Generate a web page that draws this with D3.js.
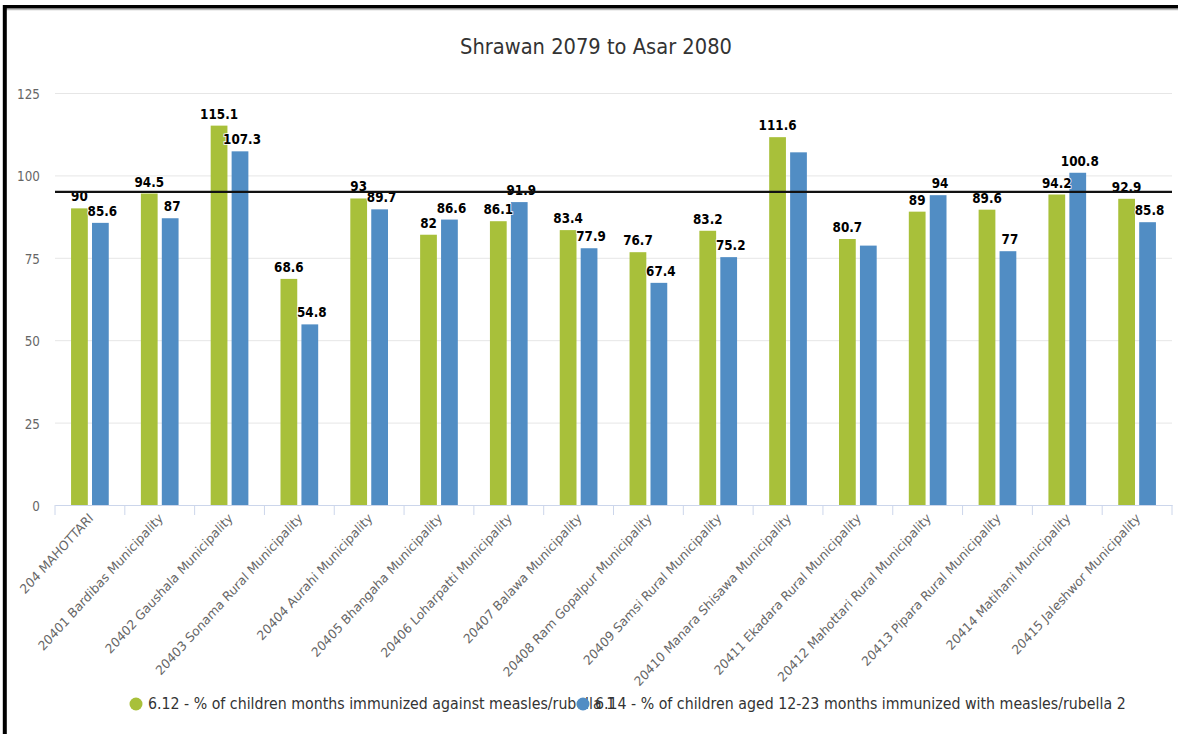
<!DOCTYPE html>
<html>
<head>
<meta charset="utf-8">
<script src="https://cdn.jsdelivr.net/npm/d3@7/dist/d3.min.js"></script>
<style>
    body { margin: 0; background: #fff; }
    text { font-family: "DejaVu Sans", sans-serif; }
</style>
</head>
<body>
<div id="chart"></div>
<script>
var categories = [
    "204 MAHOTTARI",
    "20401 Bardibas Municipality",
    "20402 Gaushala Municipality",
    "20403 Sonama Rural Municipality",
    "20404 Aurahi Municipality",
    "20405 Bhangaha Municipality",
    "20406 Loharpatti Municipality",
    "20407 Balawa Municipality",
    "20408 Ram Gopalpur Municipality",
    "20409 Samsi Rural Municipality",
    "20410 Manara Shisawa Municipality",
    "20411 Ekadara Rural Municipality",
    "20412 Mahottari Rural Municipality",
    "20413 Pipara Rural Municipality",
    "20414 Matihani Municipality",
    "20415 Jaleshwor Municipality"
];
var measles1 = [90, 94.5, 115.1, 68.6, 93, 82, 86.1, 83.4, 76.7, 83.2, 111.6, 80.7, 89, 89.6, 94.2, 92.9];
var measles2 = [85.6, 87, 107.3, 54.8, 89.7, 86.6, 91.9, 77.9, 67.4, 75.2, 107, 78.7, 94, 77, 100.8, 85.8];
// labels the original chart dropped because they collided
var hiddenLabels2 = ["20410 Manara Shisawa Municipality", "20411 Ekadara Rural Municipality"];
var seriesNames = [
    "6.12 - % of children months immunized against measles/rubella 1",
    "6.14 - % of children aged 12-23 months immunized with measles/rubella 2"
];
var seriesColors = ["#a8c03a", "#518dc4"];
var yTicks = [0, 25, 50, 75, 100, 125];
var target = 95;
var title = "Shrawan 2079 to Asar 2080";

var W = 1178,
    H = 734,
    plot = { left: 55, right: 1172, top: 93, bottom: 505 },
    stretch = 1.1; // the screenshot is a little taller than wide

var svg = d3.select("#chart").append("svg")
    .attr("width", W)
    .attr("height", H);

svg.append("rect")
    .attr("width", W)
    .attr("height", H)
    .attr("fill", "#fff");

// frame of the screenshot
svg.append("line")
    .attr("x1", 3).attr("x2", W)
    .attr("y1", 9.6).attr("y2", 9.6)
    .style("stroke", "#bbb")
    .style("stroke-width", 1.2);
svg.append("line")
    .attr("x1", 3).attr("x2", W)
    .attr("y1", 6.8).attr("y2", 6.8)
    .style("stroke", "#000")
    .style("stroke-width", 3.6);
svg.append("line")
    .attr("x1", 4.8).attr("x2", 4.8)
    .attr("y1", 5).attr("y2", H)
    .style("stroke", "#000")
    .style("stroke-width", 4);

var data = categories.map(function(c, i) {
    return { cat: c, values: [measles1[i], measles2[i]] };
});

var x0 = d3.scaleBand()
    .domain(categories)
    .range([plot.left, plot.right]);
var x1 = d3.scaleBand()
    .domain([0, 1])
    .range([x0.bandwidth() * 0.23, x0.bandwidth() * 0.77])
    .paddingInner(0.2);
var y = d3.scaleLinear()
    .domain([0, 125])
    .range([plot.bottom, plot.top]);

svg.append("text")
    .attr("transform", "translate(596,54) scale(1," + stretch + ")")
    .attr("text-anchor", "middle")
    .attr("font-size", 19.5)
    .style("fill", "#333")
    .text(title);

// grid + y labels
var yAxis = d3.axisLeft(y)
    .tickValues(yTicks)
    .tickSize(-(plot.right - plot.left))
    .tickPadding(15);
var gy = svg.append("g")
    .attr("transform", "translate(" + plot.left + ",0)")
    .call(yAxis);
gy.select(".domain").remove();
gy.selectAll(".tick line")
    .style("stroke", "#e6e6e6");
gy.selectAll(".tick text")
    .attr("font-family", "DejaVu Sans, sans-serif")
    .attr("font-size", 12)
    .attr("dy", "0.42em")
    .attr("transform", "scale(1," + stretch + ")")
    .style("fill", "#666");

// x axis with boundary ticks
var xAxis = d3.axisBottom(x0)
    .tickSize(0)
    .tickFormat("");
var gx = svg.append("g")
    .attr("transform", "translate(0," + plot.bottom + ")")
    .call(xAxis);
gx.select(".domain")
    .style("stroke", "#ccd6eb");
gx.selectAll(".bound")
    .data(categories.concat(["end"]))
    .enter().append("line")
    .attr("class", "bound")
    .attr("x1", function(d, i) { return plot.left + i * x0.step(); })
    .attr("x2", function(d, i) { return plot.left + i * x0.step(); })
    .attr("y1", 0)
    .attr("y2", 10)
    .style("stroke", "#ccd6eb");

svg.selectAll(".catLabel")
    .data(categories)
    .enter().append("text")
    .attr("class", "catLabel")
    .attr("text-anchor", "end")
    .attr("font-size", 12)
    .style("fill", "#666")
    .attr("transform", function(d) {
        return "translate(" + (x0(d) + x0.bandwidth() / 2 + 4) + "," + (plot.bottom + 14) + ") scale(1," + stretch + ") rotate(-45)";
    })
    .text(function(d) { return d; });

var groups = svg.selectAll(".group")
    .data(data)
    .enter().append("g")
    .attr("class", "group")
    .attr("transform", function(d) {
        return "translate(" + x0(d.cat) + ",0)";
    });

groups.selectAll("rect")
    .data(function(d) {
        return d.values.map(function(v, s) { return { s: s, v: v, cat: d.cat }; });
    })
    .enter().append("rect")
    .attr("x", function(d) { return x1(d.s); })
    .attr("y", function(d) { return y(d.v); })
    .attr("width", x1.bandwidth())
    .attr("height", function(d) { return y(0) - y(d.v); })
    .style("fill", function(d) { return seriesColors[d.s]; });

// target line over the bars
svg.append("line")
    .attr("x1", plot.left)
    .attr("x2", plot.right)
    .attr("y1", y(target))
    .attr("y2", y(target))
    .style("stroke", "#111")
    .style("stroke-width", 2.2);

groups.selectAll(".valLabel")
    .data(function(d) {
        return d.values.map(function(v, s) { return { s: s, v: v, cat: d.cat }; })
            .filter(function(p) { return !(p.s == 1 && hiddenLabels2.indexOf(p.cat) >= 0); });
    })
    .enter().append("text")
    .attr("class", "valLabel")
    .attr("transform", function(d) {
        var lx = x1(d.s) + x1.bandwidth() / 2 + (d.s == 1 ? 2 : 0);
        return "translate(" + lx + "," + (y(d.v) - 7) + ") scale(1," + stretch + ")";
    })
    .attr("text-anchor", "middle")
    .attr("font-size", 12)
    .attr("font-weight", "bold")
    .style("fill", "#000")
    .style("stroke", "#fff")
    .style("stroke-width", 1.5)
    .style("paint-order", "stroke")
    .text(function(d) { return d.v; });

// legend (items overlap in the original)
var legendX = [136, 583];
var legend = svg.selectAll(".legendItem")
    .data(seriesNames)
    .enter().append("g")
    .attr("class", "legendItem")
    .attr("transform", function(d, i) { return "translate(" + legendX[i] + ",704)"; });
legend.append("circle")
    .attr("r", 6.5)
    .style("fill", function(d, i) { return seriesColors[i]; });
legend.append("text")
    .attr("transform", "translate(12,5) scale(1," + stretch + ")")
    .attr("font-size", 14.2)
    .style("fill", "#333")
    .text(function(d) { return d; });
</script>
</body>
</html>
